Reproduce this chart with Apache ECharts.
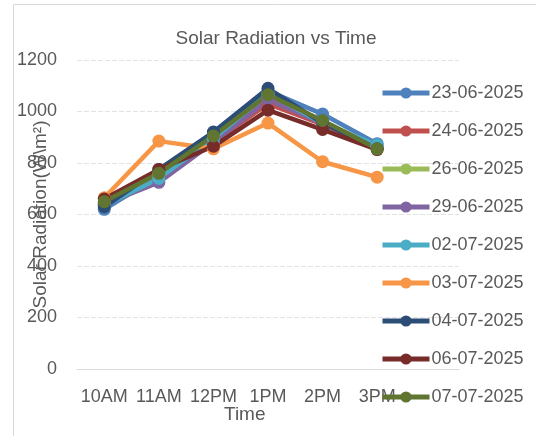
<!DOCTYPE html>
<html>
<head>
<meta charset="utf-8">
<script src="https://cdn.jsdelivr.net/npm/echarts@6/dist/echarts.min.js"></script>
<style>html,body{margin:0;padding:0;background:#fff}#c{width:536px;height:436px}</style>
</head>
<body>
<div id="c"></div>
<script>
const categories = ['10AM', '11AM', '12PM', '1PM', '2PM', '3PM', ''];
const seriesNames = ['23-06-2025', '24-06-2025', '26-06-2025', '29-06-2025', '02-07-2025', '03-07-2025', '04-07-2025', '06-07-2025', '07-07-2025'];
const s23_06 = [620, 750, 905, 1080, 990, 875];
const s24_06 = [640, 745, 880, 1030, 950, 860];
const s26_06 = [650, 760, 900, 1065, 960, 865];
const s29_06 = [640, 725, 880, 1045, 955, 860];
const s02_07 = [635, 740, 895, 1070, 955, 870];
const s03_07 = [665, 885, 855, 955, 805, 745];
const s04_07 = [630, 775, 920, 1090, 955, 855];
const s06_07 = [660, 775, 865, 1005, 930, 852];
const s07_07 = [650, 760, 905, 1065, 965, 855];
const yTicks = [0, 200, 400, 600, 800, 1000, 1200];

const allValues = [s23_06, s24_06, s26_06, s29_06, s02_07, s03_07, s04_07, s06_07, s07_07];
const colors = ['#4F81BD', '#C0504D', '#9BBB59', '#8064A2', '#4BACC6', '#F79646', '#2C4D75', '#772C2A', '#5F7530'];
const font = '"Liberation Sans", Arial, sans-serif';
const txt = '#595959';
const BS = String.fromCharCode(92);

const chart = echarts.init(document.getElementById('c'), null, {renderer: 'canvas'});
chart.setOption({
  animation: false,
  color: colors,
  title: {
    text: 'Solar Radiation vs Time',
    left: 271, top: 24, textAlign: 'center',
    textStyle: {fontFamily: font, fontSize: 19, fontWeight: 'normal', color: txt}
  },
  legend: {
    orient: 'vertical', left: 375, top: 79,
    itemWidth: 47, itemHeight: 14, itemGap: 20,
    data: seriesNames,
    lineStyle: {width: 5},
    textStyle: {fontFamily: font, fontSize: 18, color: txt, padding: [0, 0, 0, -3]}
  },
  grid: {left: 77, right: 77, top: 60, bottom: 67, containLabel: false, outerBoundsMode: 'none'},
  xAxis: {
    type: 'category', data: categories, boundaryGap: true,
    axisLine: {lineStyle: {color: '#D9D9D9', width: 1}},
    axisTick: {show: false},
    axisLabel: {fontFamily: font, fontSize: 18, color: txt, margin: 19, interval: 0}
  },
  yAxis: {
    type: 'value', min: yTicks[0], max: yTicks[yTicks.length - 1], interval: 200,
    name: 'Solar Radiation(W' + BS + 'm²)', nameLocation: 'middle', nameRotate: 90, nameGap: 27,
    nameMoveOverlap: false,
    nameTextStyle: {fontFamily: font, fontSize: 19, color: txt},
    axisLine: {show: false}, axisTick: {show: false},
    axisLabel: {fontFamily: font, fontSize: 18, color: txt, margin: 20, formatter: v => String(v)},
    splitLine: {lineStyle: {color: '#E3E3E3', width: 1, type: [5, 2]}}
  },
  graphic: [
    {type: 'rect', shape: {x: 13.5, y: 4.5, width: 600, height: 500}, style: {fill: 'none', stroke: '#D9D9D9', lineWidth: 1}, z: -10},
    {type: 'text', left: 224, top: 405, style: {text: 'Time', font: '19px "Liberation Sans", Arial, sans-serif', fill: txt}}
  ],
  series: seriesNames.map((n, i) => ({
    name: n, type: 'line', data: allValues[i],
    symbol: 'circle', symbolSize: 13,
    lineStyle: {width: 4.5, color: colors[i]},
    itemStyle: {color: colors[i]}
  }))
});
</script>
</body>
</html>
